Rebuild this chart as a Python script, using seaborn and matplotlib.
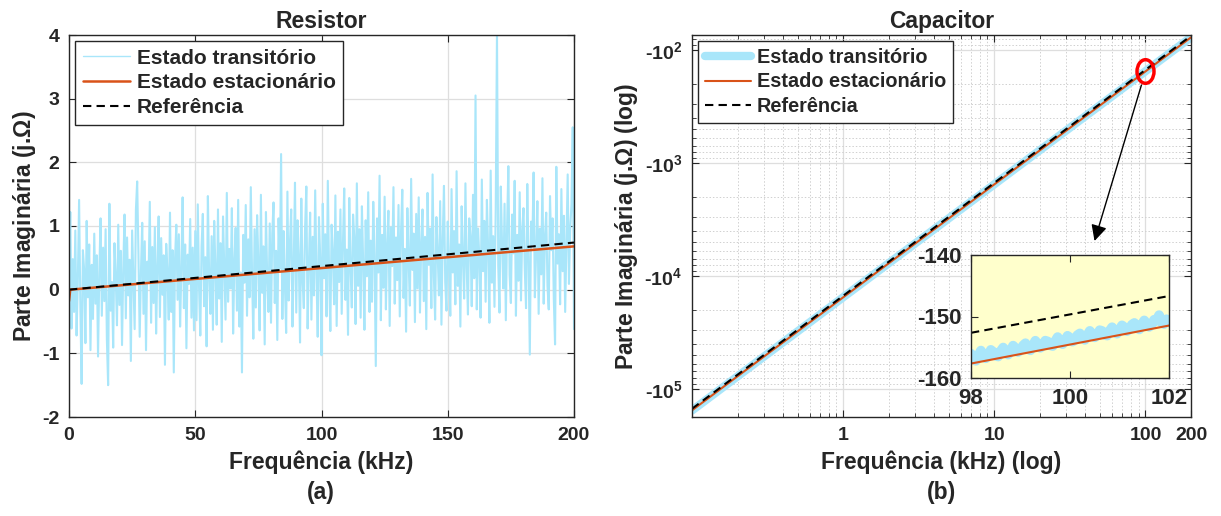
import numpy as np
import matplotlib
matplotlib.use("Agg")
import matplotlib.pyplot as plt
import seaborn as sns
from matplotlib.path import Path
from matplotlib.transforms import Affine2D
from matplotlib.ticker import FixedLocator, FixedFormatter, NullFormatter

# ---------------- data ----------------
# (a) Resistor: imaginary part vs frequency (kHz), sampled every 0.5 kHz
res_freq = np.arange(0, 200.5, 0.5)
res_transient = [
    0.05, 1.22, -0.61, 0.48, -0.35, 0.93, -0.72, 0.15, 1.41, -0.28, -1.48, 0.62, 0.31, -0.84, 1.08, -0.12, 0.71, -0.95, 0.39, -0.46,
    0.88, -0.22, 0.54, -1.05, 0.27, 1.12, -0.41, 0.66, -0.18, 0.95, -0.78, -1.50, 1.35, -0.33, 0.12, -0.91, 0.73, 0.21, -0.56, 1.02,
    -0.24, 0.61, -0.87, 0.35, 1.18, -0.45, 0.82, -0.09, 0.47, -1.12, 0.93, 0.18, -0.62, 1.26, 1.70, 0.57, -0.74, 0.29, 1.05, -0.38,
    0.76, -0.95, 0.44, 0.13, 1.38, -0.52, 0.67, -0.21, 0.98, -0.69, 0.36, 1.15, -0.43, 0.81, -0.08, 0.54, -1.18, 0.72, 0.25, -0.47,
    1.21, -0.35, 0.62, -1.30, 0.49, 1.02, -0.16, 0.87, -0.58, 0.33, 1.45, -0.29, 0.71, -0.92, 0.55, 0.09, 1.11, -0.44, 0.66, -0.64,
    0.92, -0.48, 1.34, 0.05, -0.72, 0.68, 1.19, -0.26, 0.51, -0.89, 1.47, 0.22, -0.38, 0.84, -0.63, 1.08, 0.31, -0.55, 1.26, -0.14,
    0.73, -0.82, 1.15, 0.36, -0.47, 1.52, -0.19, 0.64, 0.02, 1.28, -0.69, 0.45, 0.97, -0.33, 1.41, -0.58, 0.27, -1.30, 0.86, 0.11,
    1.33, -0.41, 0.79, -0.12, 1.61, 0.24, -0.77, 0.95, -0.28, 1.17, 0.43, -0.64, 1.49, -0.05, 0.68, -0.86, 1.22, 0.17, -0.35, 1.04,
    -0.52, 0.88, 1.37, -0.21, 0.61, -0.79, 1.12, 0.33, 2.13, -0.46, 0.92, 0.08, -0.68, 1.54, -0.17, 0.73, 1.26, -0.58, 0.41, 1.68,
    -0.36, 1.09, 0.52, -0.83, 1.43, 0.14, -0.29, 0.97, 1.62, -0.61, 0.38, 1.21, -0.47, 0.83, -0.09, 1.56, 0.26, -0.74, 1.14, 0.49,
    -1.03, 1.35, 0.18, 0.87, -0.42, 1.71, 0.29, -0.65, 1.02, 0.56, -0.23, 1.48, -0.57, 0.91, 0.12, 1.26, -0.38, 0.74, 1.59, -0.16,
    0.63, -0.71, 1.44, 0.35, -0.28, 1.18, 0.81, -0.54, 1.67, 0.06, 0.95, -0.44, 1.31, 0.42, -0.63, 1.09, 0.21, 1.53, -0.35, 0.77,
    -0.19, 1.38, 0.54, -1.20, 1.12, 0.27, 1.79, -0.48, 0.86, 0.03, 1.46, -0.31, 0.69, 1.24, -0.57, 0.98, 0.37, 1.61, -0.22, 0.82,
    0.15, 1.33, -0.42, 0.91, 1.57, -0.13, 0.64, -0.66, 1.28, 0.47, -0.25, 1.74, 0.31, 0.88, -0.51, 1.19, 0.02, 1.45, -0.36, 0.72,
    1.26, -0.18, 0.83, -0.62, 1.52, 0.39, 0.96, -0.29, 1.81, 0.21, -0.47, 1.14, 0.58, -0.09, 1.39, -0.55, 0.79, 1.63, 0.12, -0.33,
    1.07, 0.44, -0.41, 1.58, 0.27, 0.92, -0.23, 1.86, 0.06, 0.71, -0.58, 1.31, 0.49, -0.14, 1.67, 0.35, -0.39, 1.12, 0.83, -0.26,
    1.49, 0.18, 3.05, -0.31, 0.96, 0.52, -0.44, 1.73, 0.29, 1.08, -0.19, 1.41, 0.63, -0.52, 1.87, 0.11, 0.84, -0.27, 1.26, 4.05,
    0.37, -0.36, 1.62, 0.74, 0.02, 1.35, -0.48, 0.98, 1.94, 0.23, -0.21, 1.18, 0.57, 1.71, -0.41, 0.86, 0.14, 1.53, -0.17, 0.92,
    1.28, 0.33, -0.29, 1.66, 0.49, -1.02, 1.07, 0.71, 1.84, -0.12, 0.58, 1.39, -0.38, 0.96, 0.24, 1.75, -0.22, 0.83, 1.21, 0.06,
    -0.31, 1.47, 0.62, 1.12, -0.14, -0.86, 1.93, 0.41, 0.87, -0.23, 1.58, 0.29, 1.16, -0.35, 0.74, 1.81, 0.09, 0.96, 1.34, 2.55,
    -0.62,
]
res_steady_freq = [0, 0.5, 200]
res_steady = [-0.18, 0.0, 0.68]
res_ref_freq = [0, 200]
res_ref = [0.0, 0.74]

# (b) Capacitor: imaginary part vs frequency (kHz), log-log
cap_freq = [0.1, 1, 10, 100, 200]
cap_transient = [-155000, -15420, -1542, -154.0, -77.1]
cap_steady = [-154500, -15450, -1545, -154.5, -77.25]
cap_ref = [-149600, -14960, -1496, -149.6, -74.8]

# inset zoom (98..102 kHz)
zoom_freq = np.arange(98, 102.001, 0.05)
zoom_transient = [
    -156.05, -156.77, -157.20, -156.32, -155.54, -156.26, -156.79, -156.41, -155.43, -155.75,
    -156.38, -156.50, -155.62, -155.05, -155.67, -156.19, -155.61, -154.74, -155.16, -155.78,
    -155.50, -154.73, -154.35, -155.17, -155.50, -154.72, -153.94, -154.56, -155.09, -154.71,
    -153.93, -154.06, -154.68, -154.80, -154.02, -153.35, -153.97, -154.49, -153.91, -153.14,
    -153.46, -154.08, -153.81, -153.03, -152.75, -153.47, -153.80, -153.02, -152.34, -152.87,
    -153.39, -153.01, -152.23, -152.36, -152.98, -153.10, -152.32, -151.75, -152.27, -152.79,
    -152.22, -151.44, -151.76, -152.38, -152.11, -151.33, -151.05, -151.78, -152.10, -151.32,
    -150.64, -151.17, -151.69, -151.31, -150.53, -150.66, -149.78, -151.00, -151.23, -150.45,
    -150.87,
]
zoom_line_freq = [98, 102]
zoom_steady = [-157.65, -151.47]
zoom_ref = [-152.65, -146.67]

mark_freq = [100]
mark_val = [-152.0]

labels = ["Estado transitório", "Estado estacionário", "Referência"]

# ---------------- style ----------------
sns.set_style("ticks")
plt.rcParams.update({
    "font.family": ["Liberation Sans", "DejaVu Sans"],
    "font.weight": "bold",
    "axes.labelweight": "bold",
    "axes.titleweight": "bold",
    "axes.unicode_minus": False,
    "mathtext.fontset": "custom",
    "mathtext.rm": "Liberation Sans:bold",
    "mathtext.bf": "Liberation Sans:bold",
    "mathtext.it": "Liberation Sans:italic:bold",
    "xtick.direction": "in",
    "ytick.direction": "in",
    "xtick.top": True,
    "ytick.right": True,
    "axes.edgecolor": "#262626",
    "xtick.color": "#262626",
    "ytick.color": "#262626",
    "text.color": "#262626",
    "axes.labelcolor": "#262626",
})

BLUE = "#A9E6FA"
ORANGE = "#D95319"
GRID = "#dedede"
TICK_FS = 14
LAB_FS = 16.5

fig = plt.figure(figsize=(12.21, 5.16), dpi=100)
W, H = 1221, 516
ax1 = fig.add_axes([69 / W, 1 - 417 / H, 505 / W, 382 / H])
ax2 = fig.add_axes([692 / W, 1 - 417 / H, 499 / W, 382 / H])


def style_axes(ax, fs=TICK_FS):
    for s in ax.spines.values():
        s.set_linewidth(1.0)
        s.set_color("#262626")
    ax.tick_params(which="major", length=5, width=0.8, labelsize=fs, pad=7)
    ax.tick_params(which="minor", length=3, width=0.6)
    for lab in ax.get_xticklabels() + ax.get_yticklabels():
        lab.set_fontweight("bold")


def make_legend(ax, size):
    leg = ax.legend(loc="upper left", frameon=True, fancybox=False,
                    edgecolor="#262626", framealpha=1, borderaxespad=0.3,
                    handlelength=2.3, handletextpad=0.3, labelspacing=0.28,
                    borderpad=0.35, prop={"weight": "bold", "size": size})
    leg.get_frame().set_linewidth(1.0)
    return leg


# ---------- (a) Resistor ----------
sns.lineplot(x=res_freq, y=res_transient, ax=ax1, color=BLUE, lw=1.5,
             estimator=None, sort=False, label=labels[0])
sns.lineplot(x=res_steady_freq, y=res_steady, ax=ax1, color=ORANGE, lw=1.8,
             estimator=None, label=labels[1])
sns.lineplot(x=res_ref_freq, y=res_ref, ax=ax1, color="black", lw=1.5,
             estimator=None, label=labels[2], linestyle=(0, (4, 2.5)))
ax1.set_xlim(0, 200)
ax1.set_ylim(-2, 4)
ax1.set_xticks([0, 50, 100, 150, 200])
ax1.set_yticks([-2, -1, 0, 1, 2, 3, 4])
ax1.grid(True, color=GRID, lw=0.9)
ax1.set_axisbelow(True)
ax1.set_title("Resistor", fontsize=LAB_FS, fontweight="bold", pad=5)
ax1.set_xlabel("Frequência (kHz)", fontsize=LAB_FS, labelpad=5)
ax1.set_ylabel("Parte Imaginária (j.$\\mathit{\\Omega}$)", fontsize=LAB_FS, labelpad=3)
style_axes(ax1)
leg1 = make_legend(ax1, 15)
leg1.get_lines()[0].set_linewidth(1.0)

# ---------- (b) Capacitor ----------
sns.lineplot(x=cap_freq, y=cap_transient, ax=ax2, color=BLUE, lw=6.0,
             estimator=None, label=labels[0])
sns.lineplot(x=cap_freq, y=cap_steady, ax=ax2, color=ORANGE, lw=1.5,
             estimator=None, label=labels[1])
sns.lineplot(x=cap_freq, y=cap_ref, ax=ax2, color="black", lw=1.5,
             estimator=None, label=labels[2], linestyle=(0, (4, 2.5)))

mk = Path.unit_circle().transformed(Affine2D().scale(0.72, 1.0))
ax2.plot(mark_freq, mark_val, ls="none", marker=mk, ms=17, mfc="none",
         mec="red", mew=2.5, zorder=5)


def neglog_fwd(y):
    y = np.asarray(y, dtype=float)
    return -np.log10(np.clip(-y, 1e-12, None))


def neglog_inv(u):
    u = np.asarray(u, dtype=float)
    return -(10.0 ** (-u))


ax2.set_xscale("log")
ax2.set_yscale("function", functions=(neglog_fwd, neglog_inv))
ax2.set_xlim(0.1, 200)
ax2.set_ylim(-177000, -73.6)

ax2.xaxis.set_major_locator(FixedLocator([1, 10, 100, 200]))
ax2.xaxis.set_major_formatter(FixedFormatter(["1", "10", "100", "200"]))
xminor = [k * 10.0 ** n for n in range(-1, 3) for k in range(2, 10) if k * 10.0 ** n < 200]
ax2.xaxis.set_minor_locator(FixedLocator(xminor))
ax2.xaxis.set_minor_formatter(NullFormatter())

ymaj = [-1e5, -1e4, -1e3, -1e2]
ax2.yaxis.set_major_locator(FixedLocator(ymaj))
ax2.yaxis.set_major_formatter(FixedFormatter(["-10$^{5}$", "-10$^{4}$", "-10$^{3}$", "-10$^{2}$"]))
yminor = [-k * 10.0 ** n for n in range(1, 6) for k in range(2, 10)]
ax2.yaxis.set_minor_locator(FixedLocator(yminor))
ax2.yaxis.set_minor_formatter(NullFormatter())

ax2.grid(True, which="major", color=GRID, lw=0.9)
ax2.grid(True, which="minor", color="#d0d0d0", lw=0.7, ls=(0, (1.5, 2)))
ax2.set_axisbelow(True)
ax2.set_title("Capacitor", fontsize=LAB_FS, fontweight="bold", pad=5)
ax2.set_xlabel("Frequência (kHz) (log)", fontsize=LAB_FS, labelpad=5)
ax2.set_ylabel("Parte Imaginária (j.$\\mathit{\\Omega}$) (log)", fontsize=LAB_FS, labelpad=3)
style_axes(ax2)
make_legend(ax2, 14.3)

ax2.annotate("", xy=(46, -4900), xytext=(94, -204),
             arrowprops=dict(arrowstyle="-|>", color="black", lw=1.0,
                             mutation_scale=24, shrinkA=0, shrinkB=0))

# ---------- inset ----------
axin = fig.add_axes([971 / W, 1 - 378 / H, 198 / W, 123 / H])
axin.set_facecolor("#FFFFCC")
sns.lineplot(x=zoom_freq, y=zoom_transient, ax=axin, color=BLUE, lw=7.0,
             estimator=None, legend=False)
sns.lineplot(x=zoom_line_freq, y=zoom_steady, ax=axin, color=ORANGE, lw=1.5,
             estimator=None, legend=False)
sns.lineplot(x=zoom_line_freq, y=zoom_ref, ax=axin, color="black", lw=1.5,
             estimator=None, legend=False, linestyle=(0, (4, 2.5)))
axin.set_xlim(98, 102)
axin.set_ylim(-160, -140)
axin.set_xticks([98, 100, 102])
axin.set_yticks([-160, -150, -140])
axin.set_xlabel("")
axin.set_ylabel("")
style_axes(axin, fs=16)

fig.text(321 / W, 1 - 493 / H, "(a)", ha="center", va="center", fontsize=LAB_FS, fontweight="bold")
fig.text(941 / W, 1 - 493 / H, "(b)", ha="center", va="center", fontsize=LAB_FS, fontweight="bold")

fig.savefig("out.png", dpi=100)
